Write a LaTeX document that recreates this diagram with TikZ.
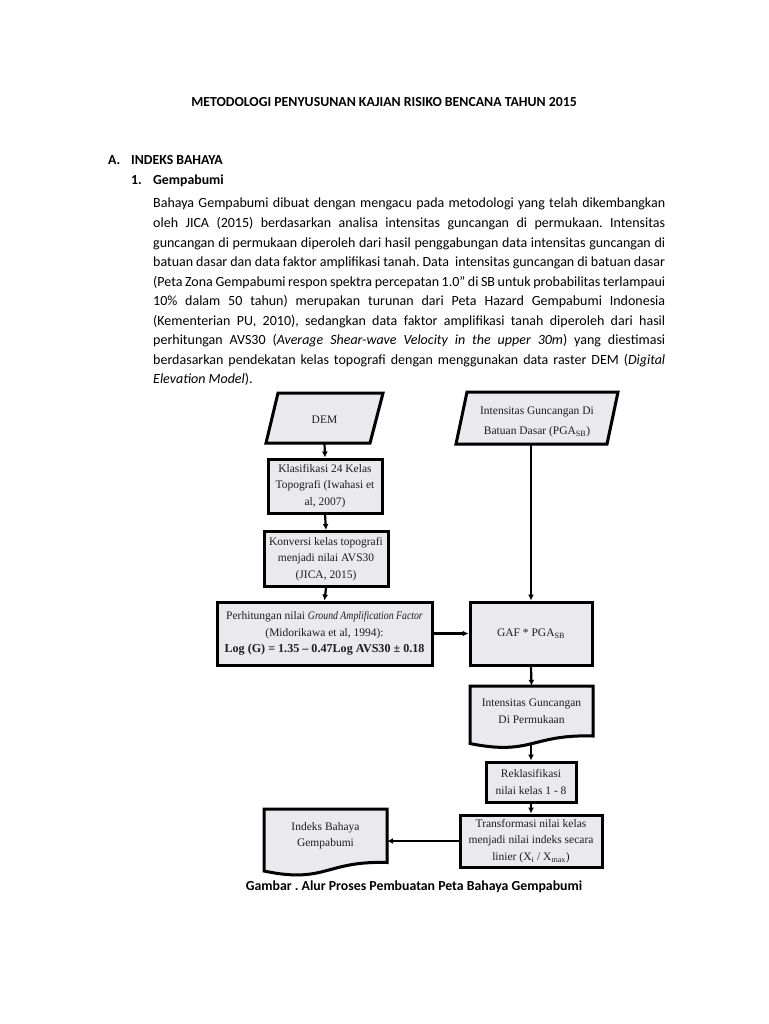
\documentclass[tikz,border=0pt]{standalone}
\usepackage{fontspec}
\setmainfont{Carlito}
\newfontfamily\flowserif{Liberation Serif}
\usetikzlibrary{arrows.meta,shadows,calc}
\definecolor{boxfill}{RGB}{233,233,238}
\definecolor{flowtext}{RGB}{30,30,30}
\newcommand{\flowfont}{\fontsize{11.5}{16.5}\selectfont\flowserif\color{flowtext}}
\newcommand{\bodyline}[1]{\makebox[512pt][s]{#1}}
\frenchspacing
\begin{document}
\begin{tikzpicture}[x=1pt,y=-1pt,
  body/.style={anchor=base west, inner sep=0pt, font=\fontsize{14}{19.6}\selectfont},
  head/.style={anchor=base west, inner sep=0pt, font=\fontsize{13.8}{19.6}\selectfont\bfseries},
  shadowed/.style={drop shadow={opacity=0.25, shadow xshift=1.5pt, shadow yshift=-1.5pt}},
  box/.style={draw=black, line width=3pt, fill=boxfill, rectangle, inner sep=1pt,
              align=center, font=\flowfont, shadowed},
  flowshape/.style={draw=black, line width=3pt, fill=boxfill, line join=miter, shadowed},
  flowlabel/.style={inner sep=0pt, align=center, font=\flowfont},
  conn/.style={line width=2.2pt, -{Latex[length=6pt,width=6pt]}}
]
\useasboundingbox[fill=white] (0,0) rectangle (768,1024);

% ---------- text ----------
\node[anchor=base, inner sep=0pt, font=\fontsize{13.8}{19.6}\selectfont\bfseries] (title) at (384,107)
  {METODOLOGI PENYUSUNAN KAJIAN RISIKO BENCANA TAHUN 2015};
\node[head] (hA) at (108,164.5) {A.};
\node[head] (hAt) at (131,164.5) {INDEKS BAHAYA};
\node[head] (h1) at (131,184.5) {1.};
\node[head] (h1t) at (153,184.5) {Gempabumi};

\node[body] (l1) at (153,208) {\bodyline{Bahaya Gempabumi dibuat dengan mengacu pada metodologi yang telah dikembangkan}};
\node[body] (l2) at (153,227.55) {\bodyline{oleh JICA (2015) berdasarkan analisa intensitas guncangan di permukaan. Intensitas}};
\node[body] (l3) at (153,247.1) {\bodyline{guncangan di permukaan diperoleh dari hasil penggabungan data intensitas guncangan di}};
\node[body] (l4) at (153,266.65) {\bodyline{batuan dasar dan data faktor amplifikasi tanah. Data \ intensitas guncangan di batuan dasar}};
\node[body] (l5) at (153,286.2) {\bodyline{(Peta Zona Gempabumi respon spektra percepatan 1.0” di SB untuk probabilitas terlampaui}};
\node[body] (l6) at (153,305.75) {\bodyline{10\% dalam 50 tahun) merupakan turunan dari Peta Hazard Gempabumi Indonesia}};
\node[body] (l7) at (153,325.3) {\bodyline{(Kementerian PU, 2010), sedangkan data faktor amplifikasi tanah diperoleh dari hasil}};
\node[body] (l8) at (153,344.85) {\bodyline{perhitungan AVS30 (\textit{Average Shear-wave Velocity in the upper 30m}) yang diestimasi}};
\node[body] (l9) at (153,364.4) {\bodyline{berdasarkan pendekatan kelas topografi dengan menggunakan data raster DEM (\textit{Digital}}};
\node[body] (l10) at (153,383.95) {\textit{Elevation Model}).};

% ---------- flowchart shapes ----------
% DEM parallelogram
\path[flowshape] (278,393) -- (383,393) -- (370,443) -- (266,443) -- cycle;
\node[flowlabel, minimum width=104pt, minimum height=50pt] (dem) at (324.5,418) {};
\node[flowlabel] (demtext) at ([yshift=-2pt]dem.center) {DEM};

% PGA parallelogram
\path[flowshape] (467,392) -- (618,392) -- (607,444) -- (456,444) -- cycle;
\node[flowlabel, minimum width=150pt, minimum height=52pt] (pga) at (537,418) {};
\node[flowlabel, font=\fontsize{11.5}{20}\selectfont\flowserif\color{flowtext}] (pgatext) at ([yshift=-4pt]pga.center)
  {Intensitas Guncangan Di\\Batuan Dasar (PGA\textsubscript{SB})};

\node[box, minimum width=114pt, minimum height=54pt] (klas) at (325,486)
  {Klasifikasi 24 Kelas\\Topografi (Iwahasi et\\al, 2007)};
\node[box, minimum width=124pt, minimum height=55pt] (konv) at (326,559)
  {Konversi kelas topografi\\menjadi nilai AVS30\\(JICA, 2015)};
\node[box, minimum width=215pt, minimum height=63pt] (perh) at (324.5,633.5)
  {Perhitungan nilai \scalebox{0.85}[1]{\textit{Ground Amplification Factor}}\\(Midorikawa et al, 1994):\\{\fontsize{12.1}{16.5}\selectfont\bfseries Log (G) = 1.35 – 0.47Log AVS30 ± 0.18}};
\node[box, minimum width=122pt, minimum height=63pt] (gaf) at (531,633.5)
  {GAF * PGA\textsubscript{SB}};

% document: Intensitas Di Permukaan
\path[flowshape] (470,686) -- (593,686) -- (593,736) .. controls (531.5,734) and (531.5,756) .. (470,743.5) -- cycle;
\node[flowlabel, minimum width=123pt, minimum height=50pt] (intdoc) at (531.5,711) {Intensitas Guncangan\\Di Permukaan};
\coordinate (intdocb) at (531,745);

\node[box, minimum width=90pt, minimum height=40pt] (reklas) at (531,782)
  {Reklasifikasi\\nilai kelas 1 - 8};
\node[box, minimum width=142pt, minimum height=52pt] (trans) at (531,841)
  {Transformasi nilai kelas\\menjadi nilai indeks secara\\linier (X\textsubscript{i} / X\textsubscript{max})};

% document: Indeks Bahaya Gempabumi
\path[flowshape] (264,809) -- (387,809) -- (387,862.5) .. controls (325.5,860.5) and (325.5,884) .. (264,871) -- cycle;
\node[flowlabel, minimum width=123pt, minimum height=53pt] (indeks) at (325.5,835.5) {Indeks Bahaya\\Gempabumi};

% ---------- connectors ----------
\draw[conn] (dem.south) -- (klas.north);
\draw[conn] (klas.south) -- (konv.north);
\draw[conn] (konv.south) -- (perh.north);
\draw[conn] (perh.east) -- (gaf.west);
\draw[conn] (pga.south -| gaf.north) -- (gaf.north);
\draw[conn] (gaf.south) -- (intdoc.north);
\draw[conn] (intdocb) -- (reklas.north);
\draw[conn] (reklas.south) -- (trans.north);
\draw[conn] (trans.west) -- (trans.west -| indeks.east);

% caption
\node[anchor=base, inner sep=0pt, font=\fontsize{13.8}{19.6}\selectfont\bfseries] (caption) at (414,890.5)
  {Gambar . Alur Proses Pembuatan Peta Bahaya Gempabumi};
\end{tikzpicture}
\end{document}
